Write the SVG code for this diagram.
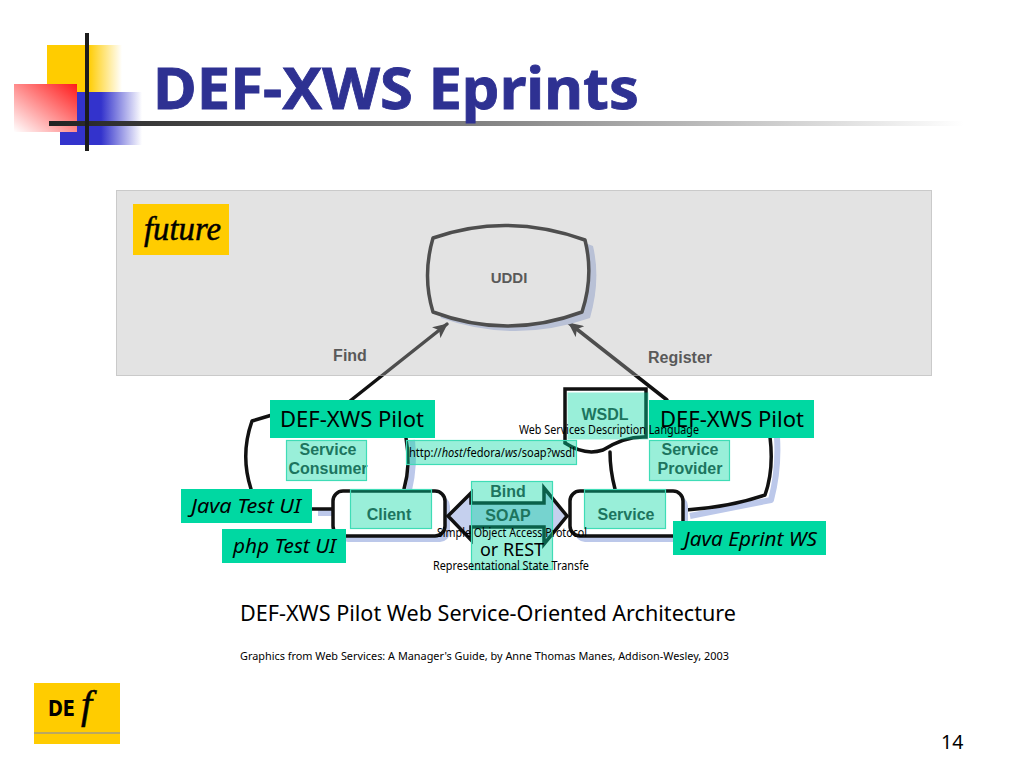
<svg xmlns="http://www.w3.org/2000/svg" width="1024" height="768" viewBox="0 0 1024 768">
<style>
text{font-family:"Noto Sans","DejaVu Sans",sans-serif;fill:#000}
.ln{fill:none;stroke:#111;stroke-width:3.5;stroke-linejoin:round;stroke-linecap:round}
.sh{fill:none;stroke:#bcc8ea;stroke-width:6;stroke-linejoin:round}
.pil{fill:#00d8a2}
.ov{fill:#00d8a0;fill-opacity:.4;stroke:#3fdcb6;stroke-width:1.2}
.lb,.gl{font-family:"Liberation Sans",Arial,sans-serif;font-weight:700;font-size:16px;fill:#333;text-anchor:middle}
.p{font-size:21px}
.i{font-size:20px;font-style:italic}
.s{font-size:12px}
</style>
<defs>
<linearGradient id="gy"><stop offset="0" stop-color="#ffcc00"/><stop offset=".55" stop-color="#ffcc00"/><stop offset="1" stop-color="#ffcc00" stop-opacity="0"/></linearGradient>
<linearGradient id="gb"><stop offset="0" stop-color="#3333cc"/><stop offset=".5" stop-color="#3333cc"/><stop offset="1" stop-color="#3333cc" stop-opacity="0"/></linearGradient>
<linearGradient id="gr" x1="1" y1="0" x2="0" y2="1"><stop offset="0" stop-color="#ff1a1a"/><stop offset="1" stop-color="#fff"/></linearGradient>
<linearGradient id="gl"><stop offset="0" stop-color="#222"/><stop offset=".5" stop-color="#888"/><stop offset="1" stop-color="#888" stop-opacity="0"/></linearGradient>
<marker id="ah" markerWidth="15" markerHeight="14" refX="14" refY="7" orient="auto" markerUnits="userSpaceOnUse" viewBox="0 0 15 14"><path d="M0 0L15 7L0 14L4 7Z" fill="#111"/></marker>
</defs>
<rect width="1024" height="768" fill="#fff"/>
<g id="decor">
<rect x="47" y="45" width="75" height="47" fill="url(#gy)"/>
<rect x="60" y="92" width="82" height="53" fill="url(#gb)"/>
<rect x="14" y="84" width="63" height="48" fill="url(#gr)"/>
<rect x="49" y="121" width="915" height="5" fill="url(#gl)"/>
<rect x="85" y="33" width="4" height="118" fill="#1c1c1c"/>
</g>
<text id="title" x="153" y="109" font-size="57" font-weight="700" textLength="486" lengthAdjust="spacingAndGlyphs" style="fill:#2e3192;stroke:#2e3192;stroke-width:.8">DEF-XWS Eprints</text>

<g id="connectors">
<path class="sh" d="M412 440Q415 465 409 490"/>
<path class="sh" d="M777 437Q779 470 771 500L690 516"/>
<path class="sh" d="M318 513H334"/>
<path class="ln" d="M272 415L252 421Q240 455 251 489"/>
<path class="ln" d="M406 438Q411 465 404 489"/>
<path class="ln" d="M770 437Q774 470 765 495Q730 507 686 510"/>
<path class="ln" d="M610 452Q610 470 615 489"/>
<path class="ln" d="M312 509H333"/>
<path class="ln" d="M350 401L447 324" marker-end="url(#ah)"/>
<path class="ln" d="M667 400L569 323" marker-end="url(#ah)"/>
</g>

<g id="uddi">
<path d="M441 244Q515 214 593 246Q601 280 590 318Q515 344 441 318Q430 280 441 244Z" fill="#bcc8ea"/>
<path d="M433 238Q507 212 585 240Q594 276 582 312Q507 340 433 312Q422 276 433 238Z" fill="#fff" stroke="#111" stroke-width="3.500" stroke-linejoin="round"/>
<text class="lb" x="509" y="283" style="font-size:15px;fill:#222">UDDI</text>
</g>
<g id="find"><text class="lb" x="350" y="361" style="fill:#222">Find</text></g>
<g id="register"><text class="lb" x="680" y="363" style="fill:#222">Register</text></g>

<g id="panel">
<rect x="116" y="190" width="816" height="186" fill="rgb(181,181,181)" fill-opacity=".376"/>
<rect x="116.500" y="190.500" width="815" height="185" fill="none" stroke="#b0b0b0" stroke-dasharray="1 1"/>
</g>
<g id="future">
<rect x="133" y="204" width="96" height="51" fill="#ffcc00"/>
<text x="144" y="240" font-size="34" font-style="italic" textLength="77" lengthAdjust="spacingAndGlyphs" style="font-family:'Liberation Serif',serif;stroke:#000;stroke-width:.5">future</text>
</g>

<g id="client">
<rect x="338" y="496" width="112" height="46" rx="10" fill="#bcc8ea"/>
<rect x="333" y="491" width="112" height="45" rx="10" fill="#fff" stroke="#111" stroke-width="3.5"/>
<text class="gl" x="389" y="520">Client</text>
<rect class="ov" x="350.500" y="489.500" width="81" height="39"/>
</g>
<g id="service">
<rect x="575" y="496" width="113" height="46" rx="10" fill="#bcc8ea"/>
<rect x="570" y="491" width="113" height="45" rx="10" fill="#fff" stroke="#111" stroke-width="3.5"/>
<text class="gl" x="626" y="520">Service</text>
<rect class="ov" x="584.500" y="489.500" width="81" height="39"/>
</g>
<g id="soap">
<path d="M448 516L471 493V503H544V488L567 516L544 544V527H471V540Z" fill="#c5d0ee" stroke="#111" stroke-width="3.500" stroke-linejoin="miter"/>
<text class="gl" x="508" y="497">Bind</text>
<text class="gl" x="508" y="521">SOAP</text>
<rect class="ov" x="471.500" y="481.500" width="81" height="88"/>
<text x="512" y="556" font-size="18" text-anchor="middle">or REST</text>
</g>
<g id="wsdl">
<path d="M565 389H646V437Q625 436 603 450Q585 456 565 443Z" fill="#fff" stroke="#111" stroke-width="3.5"/>
<text class="gl" x="605" y="420">WSDL</text>
<rect class="ov" x="567.500" y="392.500" width="81" height="47" style="stroke:none"/>
</g>
<g id="consumer">
<text class="lb" x="328" y="455">Service</text>
<text class="lb" x="328" y="474">Consumer</text>
<rect class="ov" x="286.500" y="440.500" width="80" height="40"/>
</g>
<g id="provider">
<text class="lb" x="690" y="455">Service</text>
<text class="lb" x="690" y="474">Provider</text>
<rect class="ov" x="649.500" y="440.500" width="80" height="40"/>
</g>
<g id="url">
<rect class="ov" x="406.500" y="440.500" width="170" height="24"/>
<text class="s" x="409" y="457" textLength="166" lengthAdjust="spacingAndGlyphs">http://<tspan font-style="italic">host</tspan>/fedora/<tspan font-style="italic">ws</tspan>/soap?wsdl</text>
</g>
<g id="pilot-left">
<rect class="pil" x="270" y="400" width="165" height="38"/>
<text class="p" x="280" y="427" textLength="144" lengthAdjust="spacingAndGlyphs">DEF-XWS Pilot</text>
</g>
<g id="pilot-right">
<rect class="pil" x="649" y="400" width="165" height="38"/>
<text class="p" x="660" y="427" textLength="144" lengthAdjust="spacingAndGlyphs">DEF-XWS Pilot</text>
</g>
<g id="java-ui">
<rect class="pil" x="181" y="489" width="131" height="34"/>
<text class="i" x="191" y="513" textLength="110" lengthAdjust="spacingAndGlyphs">Java Test UI</text>
</g>
<g id="php-ui">
<rect class="pil" x="222" y="529" width="124" height="34"/>
<text class="i" x="233" y="553" textLength="103" lengthAdjust="spacingAndGlyphs">php Test UI</text>
</g>
<g id="java-ws">
<rect class="pil" x="673" y="521" width="153" height="34"/>
<text class="i" x="684" y="546" textLength="133" lengthAdjust="spacingAndGlyphs">Java Eprint WS</text>
</g>
<g id="notes">
<text class="s" x="519" y="434" textLength="180" lengthAdjust="spacingAndGlyphs">Web Services Description Language</text>
<text class="s" x="437" y="537" textLength="150" lengthAdjust="spacingAndGlyphs">Simple Object Access Protocol</text>
<text class="s" x="433" y="570" textLength="156" lengthAdjust="spacingAndGlyphs">Representational State Transfe</text>
<text x="240" y="621" font-size="22" textLength="496" lengthAdjust="spacingAndGlyphs">DEF-XWS Pilot Web Service-Oriented Architecture</text>
<text x="240" y="660" font-size="11" textLength="489" lengthAdjust="spacingAndGlyphs">Graphics from Web Services: A Manager's Guide, by Anne Thomas Manes, Addison-Wesley, 2003</text>
<text x="941" y="749" font-size="19.500">14</text>
</g>
<g id="logo">
<rect x="34" y="683" width="86" height="61" fill="#ffcc00"/>
<rect x="34" y="732" width="86" height="2" fill="#b9a860"/>
<text x="48" y="716" font-size="21" font-weight="700" textLength="27" lengthAdjust="spacingAndGlyphs" style="font-family:'DejaVu Sans',sans-serif">DE</text>
<text x="81" y="718" font-size="40" font-style="italic" style="font-family:'Liberation Serif',serif;stroke:#000;stroke-width:.5">f</text>
</g>
</svg>
